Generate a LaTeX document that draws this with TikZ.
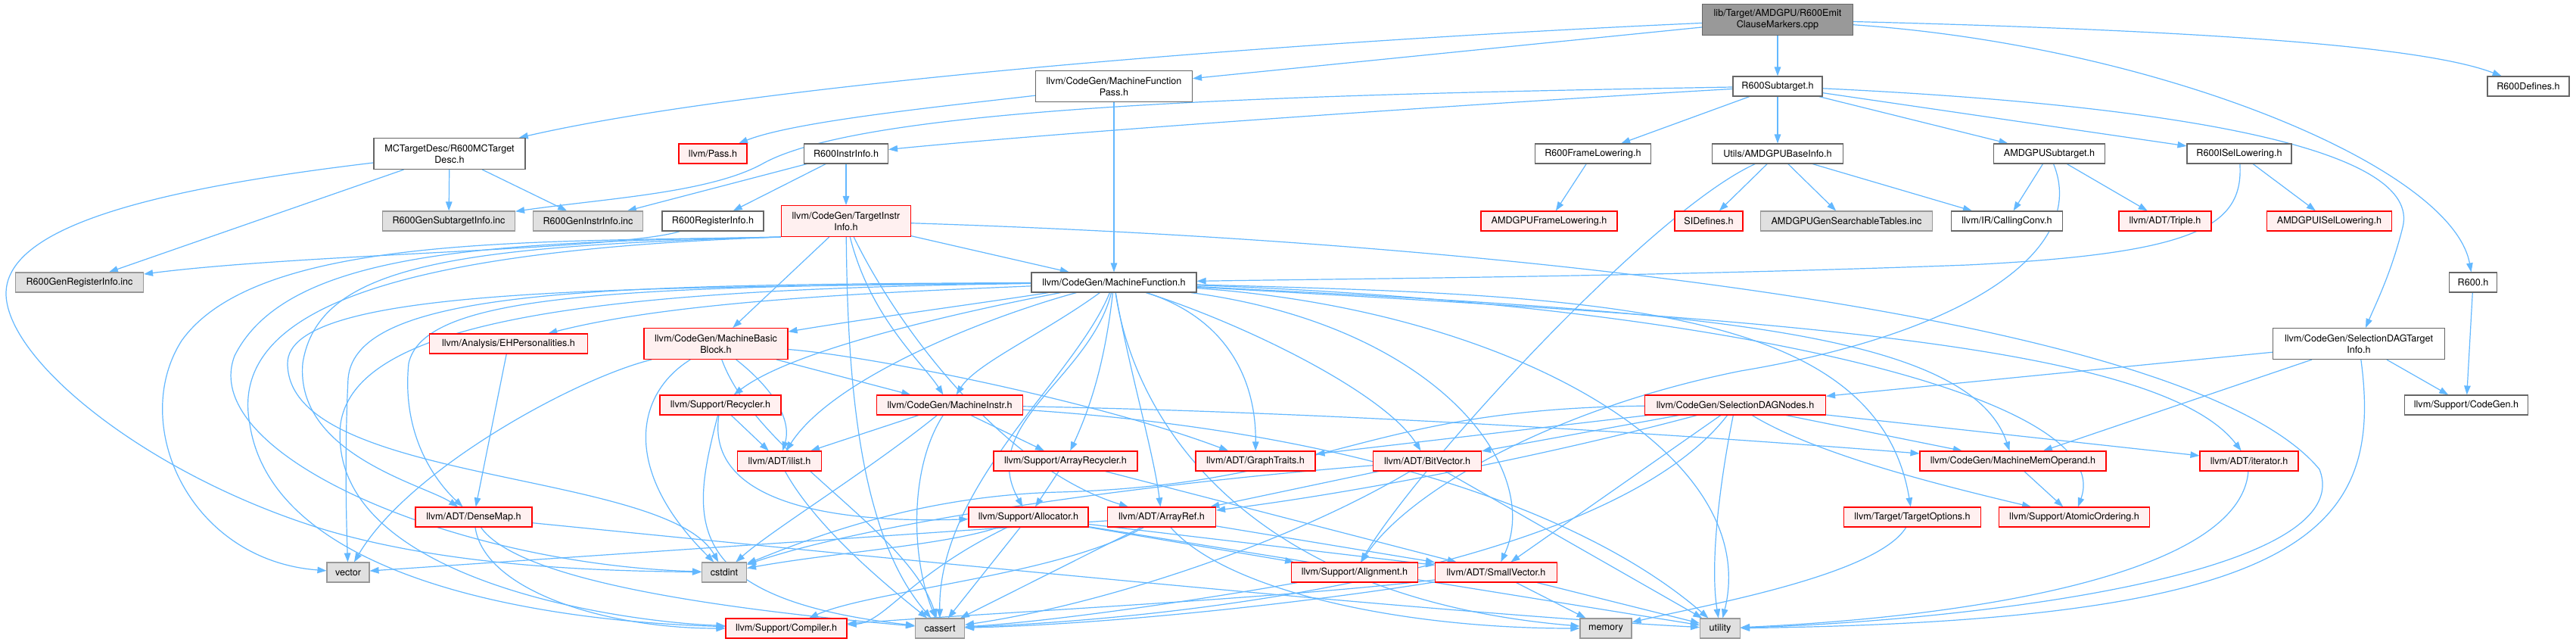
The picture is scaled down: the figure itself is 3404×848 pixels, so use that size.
\documentclass[tikz,border=0pt]{standalone}
\usepackage{fontspec}
\newfontfamily\dfont{TeX Gyre Heros}
\usetikzlibrary{arrows.meta}
\definecolor{edgec}{HTML}{63B8FF}
\definecolor{nborder}{HTML}{666666}
\definecolor{rfill}{HTML}{FFF0F0}
\definecolor{gfill}{HTML}{E0E0E0}
\definecolor{gborder}{HTML}{999999}
\definecolor{tfill}{HTML}{999999}
\pgfdeclarelayer{bg}
\pgfsetlayers{bg,main}
\tikzset{
  box/.style={line width=1.1pt, minimum height=26, inner sep=1pt, align=center,
    font=\dfont\fontsize{12.6}{15}\selectfont},
  wbox/.style={box, draw=nborder, fill=white},
  rbox/.style={box, draw=red, fill=rfill},
  gbox/.style={box, draw=gborder, fill=gfill},
  tbox/.style={box, draw=nborder, fill=tfill},
  e/.style={draw=edgec, line width=1.2pt, -{Triangle[length=12pt,width=8.5pt]}},
}
\begin{document}
\begin{tikzpicture}[x=1pt,y=-1pt]
\useasboundingbox (0,0) rectangle (3404,848);
% nodes
\node[tbox, minimum width=199, minimum height=41] (top) at (2349,26) {lib/Target/AMDGPU/R600Emit\\ClauseMarkers.cpp};
\node[wbox, minimum width=207, minimum height=41] (mfp) at (1472,114) {llvm/CodeGen/MachineFunction\\Pass.h};
\node[wbox, minimum width=118] (st) at (2349,114) {R600Subtarget.h};
\node[wbox, minimum width=108] (def) at (3341,114) {R600Defines.h};
\node[wbox, minimum width=200, minimum height=41] (mctd) at (594,203) {MCTargetDesc/R600MCTarget\\Desc.h};
\node[rbox, minimum width=90] (pass) at (942,203) {llvm/Pass.h};
\node[wbox, minimum width=111] (rii) at (1118,203) {R600InstrInfo.h};
\node[wbox, minimum width=153] (rfl) at (2105,203) {R600FrameLowering.h};
\node[wbox, minimum width=173] (basei) at (2349,203) {Utils/AMDGPUBaseInfo.h};
\node[wbox, minimum width=147] (amdst) at (2708,203) {AMDGPUSubtarget.h};
\node[wbox, minimum width=138] (risel) at (2959,203) {R600ISelLowering.h};
\node[gbox, minimum width=175] (gensub) at (593,292) {R600GenSubtargetInfo.inc};
\node[gbox, minimum width=145] (geninstr) at (777,292) {R600GenInstrInfo.inc};
\node[wbox, minimum width=134] (rri) at (942,292) {R600RegisterInfo.h};
\node[rbox, minimum width=171, minimum height=41] (tii) at (1118,292) {llvm/CodeGen/TargetInstr\\Info.h};
\node[rbox, minimum width=180] (amdfl) at (2047,292) {AMDGPUFrameLowering.h};
\node[rbox, minimum width=90] (sidef) at (2258,292) {SIDefines.h};
\node[gbox, minimum width=227] (tables) at (2440,292) {AMDGPUGenSearchableTables.inc};
\node[wbox, minimum width=147] (cc) at (2652,292) {llvm/IR/CallingConv.h};
\node[rbox, minimum width=122] (triple) at (2861,292) {llvm/ADT/Triple.h};
\node[rbox, minimum width=165] (amdisel) at (3078,292) {AMDGPUISelLowering.h};
\node[gbox, minimum width=169] (genreg) at (105,373) {R600GenRegisterInfo.inc};
\node[wbox, minimum width=218] (mf) at (1472,373) {llvm/CodeGen/MachineFunction.h};
\node[wbox, minimum width=63] (r600) at (3268,373) {R600.h};
\node[rbox, minimum width=209] (ehp) at (672,454) {llvm/Analysis/EHPersonalities.h};
\node[rbox, minimum width=190, minimum height=41] (mbb) at (946,454) {llvm/CodeGen/MachineBasic\\Block.h};
\node[wbox, minimum width=227, minimum height=41] (sdti) at (3117,454) {llvm/CodeGen/SelectionDAGTarget\\Info.h};
\node[rbox, minimum width=160] (recyc) at (952,535) {llvm/Support/Recycler.h};
\node[rbox, minimum width=193] (mi) at (1255,535) {llvm/CodeGen/MachineInstr.h};
\node[rbox, minimum width=239] (sdn) at (2293,535) {llvm/CodeGen/SelectionDAGNodes.h};
\node[wbox, minimum width=163] (cg) at (3259,535) {llvm/Support/CodeGen.h};
\node[rbox, minimum width=111] (ilist) at (1030,609) {llvm/ADT/ilist.h};
\node[rbox, minimum width=190] (arec) at (1408,609) {llvm/Support/ArrayRecycler.h};
\node[rbox, minimum width=158] (gt) at (1659,609) {llvm/ADT/GraphTraits.h};
\node[rbox, minimum width=143] (bv) at (1886,609) {llvm/ADT/BitVector.h};
\node[rbox, minimum width=246] (mmo) at (2660,609) {llvm/CodeGen/MachineMemOperand.h};
\node[rbox, minimum width=130] (iter) at (2972,609) {llvm/ADT/iterator.h};
\node[rbox, minimum width=154] (dm) at (626,683) {llvm/ADT/DenseMap.h};
\node[rbox, minimum width=158] (alloc) at (1359,683) {llvm/Support/Allocator.h};
\node[rbox, minimum width=143] (aref) at (1535,683) {llvm/ADT/ArrayRef.h};
\node[rbox, minimum width=181] (topt) at (2527,683) {llvm/Target/TargetOptions.h};
\node[rbox, minimum width=199] (atom) at (2741,683) {llvm/Support/AtomicOrdering.h};
\node[gbox, minimum width=56] (vector) at (460,756) {vector};
\node[gbox, minimum width=59] (cstdint) at (957,756) {cstdint};
\node[rbox, minimum width=167] (align) at (1790,756) {llvm/Support/Alignment.h};
\node[rbox, minimum width=161] (sv) at (1977,756) {llvm/ADT/SmallVector.h};
\node[rbox, minimum width=160] (comp) at (1039,830) {llvm/Support/Compiler.h};
\node[gbox, minimum width=65] (cassert) at (1242,830) {cassert};
\node[gbox, minimum width=68] (memory) at (2122,830) {memory};
\node[gbox, minimum width=53] (utility) at (2273,830) {utility};

\begin{pgfonlayer}{bg}
\fill[white] (0,0) rectangle (3404,848);
% top
\draw[e] (top) .. controls (1700,55) and (1000,110) .. (mctd);
\draw[e] (top) -- (mfp);
\draw[e] (top) -- (st);
\draw[e] (top) .. controls (2900,40) and (3200,60) .. (def);
\draw[e] (top) .. controls (2850,60) and (3240,220) .. (r600);
% mfp
\draw[e] (mfp) -- (mf);
\draw[e] (mfp) .. controls (1250,140) and (1050,160) .. (pass);
% R600Subtarget
\draw[e] (st) .. controls (1900,140) and (1400,175) .. (rii);
\draw[e] (st) .. controls (1700,125) and (1150,140) .. (1010,215) .. controls (940,255) and (800,262) .. (gensub);
\draw[e] (st) -- (rfl);
\draw[e] (st) -- (basei);
\draw[e] (st) -- (amdst);
\draw[e] (st) -- (risel);
\draw[e] (st) .. controls (2900,140) and (3200,200) .. (3175,300) .. controls (3160,360) and (3140,400) .. (sdti);
% MCTargetDesc
\draw[e] (mctd) -- (gensub);
\draw[e] (mctd) -- (geninstr);
\draw[e] (mctd) -- (genreg);
\draw[e] (mctd) .. controls (200,250) and (5,300) .. (8,390) .. controls (12,480) and (200,630) .. (430,700) .. controls (600,750) and (800,754) .. (cstdint);
% R600InstrInfo
\draw[e] (rii) -- (geninstr);
\draw[e] (rii) -- (rri);
\draw[e] (rii) -- (tii);
\draw[e] (rri) .. controls (820,330) and (400,335) .. (genreg);
% TargetInstrInfo
\draw[e] (tii) -- (mf);
\draw[e] (tii) -- (mbb);
\draw[e] (tii) .. controls (1150,420) and (1220,480) .. (mi);
\draw[e] (tii) .. controls (1190,440) and (1330,620) .. (aref);
\draw[e] (tii) .. controls (1120,480) and (1130,700) .. (cassert);
\draw[e] (tii.south west) .. controls (700,320) and (340,310) .. (240,450) .. controls (170,560) and (250,740) .. (vector);
\draw[e] (tii.south west) .. controls (650,320) and (380,330) .. (310,470) .. controls (260,600) and (600,745) .. (cstdint);
\draw[e] (tii.south west) .. controls (600,325) and (420,350) .. (400,480) .. controls (390,600) and (560,640) .. (dm);
\draw[e] (tii.south west) .. controls (550,330) and (300,400) .. (330,560) .. controls (360,760) and (700,820) .. (comp);
\draw[e] (tii) .. controls (2000,320) and (2900,420) .. (3065,620) .. controls (3120,760) and (2600,820) .. (utility);
% MachineFunction
\draw[e] (mf) .. controls (1490,480) and (1525,600) .. (aref);
\draw[e] (mf) .. controls (1650,430) and (1830,520) .. (bv);
\draw[e] (mf) .. controls (800,378) and (560,390) .. (540,480) .. controls (530,580) and (580,640) .. (dm);
\draw[e] (mf) .. controls (1620,420) and (1660,500) .. (gt);
\draw[e] (mf) .. controls (1900,430) and (2040,620) .. (sv);
\draw[e] (mf) .. controls (1300,420) and (1100,500) .. (ilist);
\draw[e] (mf) .. controls (2300,420) and (2850,450) .. (iter);
\draw[e] (mf) .. controls (1200,385) and (900,395) .. (ehp);
\draw[e] (mf) .. controls (1300,400) and (1150,420) .. (mbb);
\draw[e] (mf) .. controls (1380,440) and (1290,480) .. (mi);
\draw[e] (mf) .. controls (2200,410) and (2600,430) .. (mmo);
\draw[e] (mf) .. controls (1440,500) and (1290,560) .. (alloc);
\draw[e] (mf) .. controls (1460,480) and (1440,540) .. (arec);
\draw[e] (mf) .. controls (2250,400) and (2800,520) .. (atom);
\draw[e] (mf) .. controls (800,382) and (470,420) .. (450,560) .. controls (430,760) and (800,820) .. (comp);
\draw[e] (mf) .. controls (1280,410) and (1050,460) .. (recyc);
\draw[e] (mf) .. controls (2100,390) and (2480,400) .. (topt);
\draw[e] (mf) .. controls (1420,500) and (1240,640) .. (cassert);
\draw[e] (mf) .. controls (800,380) and (380,380) .. (380,480) .. controls (380,640) and (880,620) .. (cstdint);
\draw[e] (mf) .. controls (1500,560) and (1650,790) .. (memory);
\draw[e] (mf) .. controls (2000,410) and (2330,600) .. (utility);
\draw[e] (mf) .. controls (800,376) and (470,380) .. (460,500) .. controls (455,600) and (458,700) .. (vector);
% EHPersonalities
\draw[e] (ehp) -- (dm);
% MachineBasicBlock
\draw[e] (mbb) .. controls (1150,470) and (1450,530) .. (gt);
\draw[e] (mbb) .. controls (1030,520) and (1045,560) .. (ilist);
\draw[e] (mbb) -- (mi);
\draw[e] (mbb) .. controls (1000,600) and (1200,700) .. (cassert);
\draw[e] (mbb) .. controls (840,520) and (820,620) .. (cstdint);
\draw[e] (mbb) .. controls (760,500) and (540,620) .. (vector);
% Recycler
\draw[e] (recyc) .. controls (930,680) and (1150,690) .. (alloc);
\draw[e] (recyc) -- (ilist);
\draw[e] (recyc) .. controls (915,680) and (890,790) .. (cassert);
% MachineInstr
\draw[e] (mi) -- (arec);
\draw[e] (mi) -- (ilist);
\draw[e] (mi) .. controls (1800,545) and (2300,580) .. (mmo);
\draw[e] (mi) .. controls (1200,620) and (1205,740) .. (cassert);
\draw[e] (mi) .. controls (1150,620) and (1020,700) .. (cstdint);
\draw[e] (mi) .. controls (1800,570) and (2100,680) .. (utility);
% SelectionDAGNodes
\draw[e] (sdn) .. controls (2050,600) and (1800,650) .. (aref);
\draw[e] (sdn) -- (bv);
\draw[e] (sdn) -- (gt);
\draw[e] (sdn) -- (sv);
\draw[e] (sdn) -- (iter);
\draw[e] (sdn) -- (mmo);
\draw[e] (sdn) .. controls (2400,600) and (2560,640) .. (atom);
\draw[e] (sdn) .. controls (2150,720) and (1700,810) .. (cassert);
\draw[e] (sdn) .. controls (1800,540) and (1750,640) .. (1400,650) .. controls (1200,655) and (1050,720) .. (cstdint);
\draw[e] (sdn) .. controls (2270,650) and (2260,750) .. (utility);
% SelectionDAGTargetInfo
\draw[e] (sdti) -- (sdn);
\draw[e] (sdti) -- (mmo);
\draw[e] (sdti) .. controls (3150,700) and (3050,820) .. (utility);
\draw[e] (sdti) -- (cg);
\draw[e] (r600) -- (cg);
% R600ISelLowering
\draw[e] (risel) -- (amdisel);
\draw[e] (risel) .. controls (2965,300) and (2900,335) .. (2600,350) .. controls (2200,365) and (1800,368) .. (mf);
\draw[e] (rfl) -- (amdfl);
% AMDGPUBaseInfo
\draw[e] (basei) -- (sidef);
\draw[e] (basei) -- (tables);
\draw[e] (basei) -- (cc);
\draw[e] (basei) .. controls (2180,280) and (1870,620) .. (align);
% AMDGPUSubtarget
\draw[e] (amdst) -- (cc);
\draw[e] (amdst) -- (triple);
\draw[e] (amdst) .. controls (2760,330) and (2600,440) .. (2300,490) .. controls (2050,540) and (1860,650) .. (align);
% DenseMap
\draw[e] (dm) .. controls (640,780) and (800,830) .. (comp);
\draw[e] (dm) .. controls (680,760) and (900,800) .. (cassert);
\draw[e] (dm) .. controls (1200,740) and (1900,810) .. (utility);
% Allocator
\draw[e] (alloc) -- (sv);
\draw[e] (alloc) -- (align);
\draw[e] (alloc) .. controls (1200,760) and (1170,822) .. (comp);
\draw[e] (alloc) -- (cassert);
\draw[e] (alloc) .. controls (1250,720) and (1100,730) .. (cstdint);
\draw[e] (alloc) -- (utility);
% ArrayRef
\draw[e] (aref) -- (sv);
\draw[e] (aref) .. controls (1400,760) and (1150,780) .. (comp);
\draw[e] (aref) -- (cassert);
\draw[e] (aref) .. controls (1620,780) and (1850,830) .. (memory);
\draw[e] (aref) -- (vector);
% BitVector
\draw[e] (bv) -- (aref);
\draw[e] (bv) .. controls (1700,720) and (1450,800) .. (cassert);
\draw[e] (bv) .. controls (1500,640) and (1150,690) .. (cstdint);
\draw[e] (bv) -- (utility);
% SmallVector
\draw[e] (sv) .. controls (1700,790) and (1300,810) .. (comp);
\draw[e] (sv) .. controls (1700,800) and (1450,825) .. (cassert);
\draw[e] (sv) -- (memory);
\draw[e] (sv) -- (utility);
% others
\draw[e] (align) .. controls (1600,790) and (1400,820) .. (cassert);
\draw[e] (ilist) .. controls (1080,700) and (1180,780) .. (cassert);
\draw[e] (arec) -- (alloc);
\draw[e] (arec) -- (sv);
\draw[e] (mmo) -- (atom);
\draw[e] (iter) .. controls (2960,760) and (2600,815) .. (utility);
\draw[e] (topt) .. controls (2480,760) and (2250,800) .. (memory);
\end{pgfonlayer}
\end{tikzpicture}
\end{document}
